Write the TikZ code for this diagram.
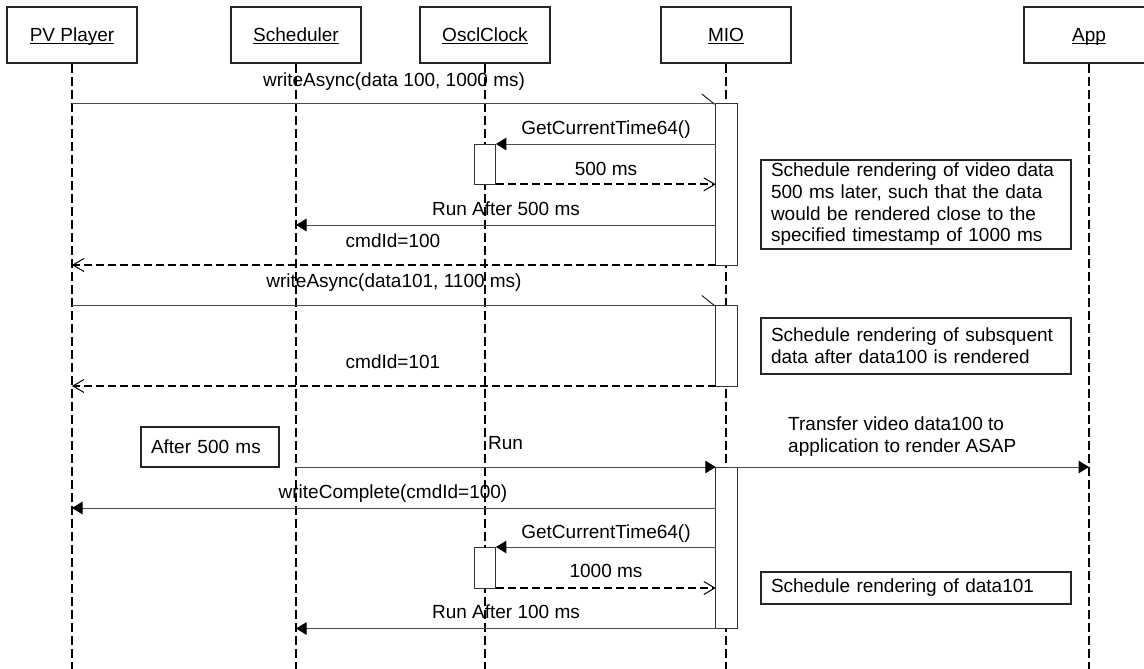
\documentclass[tikz,border=0pt]{standalone}
\usepackage{fontspec}
\setmainfont{Liberation Sans}
\usetikzlibrary{arrows.meta}
\newcommand\myul[1]{\setbox0\hbox{#1}\rlap{\rule[-2.4pt]{\wd0}{1.1pt}}\box0}
\begin{document}
\begin{tikzpicture}[x=1pt,y=-1pt,
  every node/.style={font=\fontsize{19}{21.7}\selectfont},
  head/.style={draw=black!85, line width=1.2pt, minimum width=130pt, minimum height=56pt, inner sep=0pt, text height=13.6pt, text depth=0pt},
  life/.style={line width=1.8pt, dash pattern=on 9pt off 4pt},
  act/.style={draw=black!80, fill=white, line width=1pt, minimum width=21.5pt, inner sep=0pt, outer sep=0pt},
  sync/.style={draw=black!70, line width=1pt, -{Triangle[length=10.5pt,width=12.5pt,color=black]}},
  async/.style={draw=black!70, line width=1pt, -{Straight Barb[harpoon,length=12.5pt,width=20pt,line width=1pt,color=black!85]}},
  ret/.style={line width=1.8pt, dash pattern=on 8pt off 4pt, -{Straight Barb[length=11pt,width=13pt,line width=1pt]}},
  lbl/.style={inner sep=0pt, anchor=base},
  note/.style={draw=black!85, line width=1.2pt, align=left, inner xsep=10pt, inner ysep=2pt},
]
\useasboundingbox (0,0) rectangle (1144,669);
\clip (0,0) rectangle (1144,669);
% headers
\node[head] (pv) at (72,35) {\myul{PV Player}};
\node[head] (sch) at (296,35) {\myul{Scheduler}};
\node[head] (osc) at (485,35) {\myul{OsclClock}};
\node[head] (mio) at (726,35) {\myul{MIO}};
\node[head] (app) at (1089,35) {\myul{App}};
\coordinate (bottom) at (0,675);
% lifelines
\draw[life] (pv.south) -- (pv.south |- bottom);
\draw[life] (sch.south) -- (sch.south |- bottom);
\draw[life] (osc.south) -- (osc.south |- bottom);
\draw[life] (mio.south) -- (mio.south |- bottom);
\draw[life] (app.south) -- (app.south |- bottom);
% activations
\node[act, minimum height=161pt] (a1) at (726.5,184.5) {};
\node[act, minimum height=80.5pt] (a2) at (726.5,345.75) {};
\node[act, minimum height=161.5pt] (a3) at (726.5,547.75) {};
\node[act, minimum height=40.3pt] (o1) at (485.15,164.15) {};
\node[act, minimum height=41pt] (o2) at (485.15,567.5) {};
\coordinate (y4) at (0,225);
\coordinate (y10) at (0,508);
% messages
\draw[async] (pv.south |- a1.north) -- (a1.north west);
\draw[sync] (a1.west |- o1.north) -- (o1.north east);
\draw[ret] (o1.south east) -- (a1.west |- o1.south);
\draw[sync] (a1.west |- y4) -- (sch.south |- y4);
\draw[ret] (a1.south west) -- (pv.south |- a1.south);
\draw[async] (pv.south |- a2.north) -- (a2.north west);
\draw[ret] (a2.south west) -- (pv.south |- a2.south);
\draw[sync] (sch.south |- a3.north) -- (a3.north west);
\draw[sync] (a3.north) -- (app.south |- a3.north);
\draw[sync] (a3.west |- y10) -- (pv.south |- y10);
\draw[sync] (a3.west |- o2.north) -- (o2.north east);
\draw[ret] (o2.south east) -- (a3.west |- o2.south);
\draw[sync] (a3.south west) -- (sch.south |- a3.south);
% labels
\node[lbl] (t1) at (394,87) {writeAsync(data 100, 1000 ms)};
\node[lbl] (t2) at (606,134) {GetCurrentTime64()};
\node[lbl] (t3) at (606,175) {500 ms};
\node[lbl] (t4) at (506,215) {Run After 500 ms};
\node[lbl] (t5) at (393,247) {cmdId=100};
\node[lbl] (t6) at (394,287) {writeAsync(data101, 1100 ms)};
\node[lbl] (t7) at (393,368) {cmdId=101};
\node[lbl, anchor=base west] (t8) at (488,449) {Run};
\node[inner sep=0pt, anchor=north west, align=left] (t9) at (788,417) {Transfer video data100 to\\application to render ASAP};
\node[lbl] (t10) at (393,498) {writeComplete(cmdId=100)};
\node[lbl] (t11) at (606,538) {GetCurrentTime64()};
\node[lbl] (t12) at (606,577) {1000 ms};
\node[lbl] (t13) at (506,618) {Run After 100 ms};
% notes
\node[note, text width=290pt, minimum height=89pt] (n1) at (916,204.5) {Schedule rendering of video data\\500 ms later, such that the data\\would be rendered close to the\\specified timestamp of 1000 ms};
\node[note, text width=290pt, minimum height=56pt] (n2) at (916,346) {Schedule rendering of subsquent\\data after data100 is rendered};
\node[note, text width=290pt, minimum height=32pt] (n3) at (916,588) {Schedule rendering of data101};
\node[note, text width=118pt, minimum height=40pt] (n4) at (210,447) {After 500 ms};
\end{tikzpicture}
\end{document}
